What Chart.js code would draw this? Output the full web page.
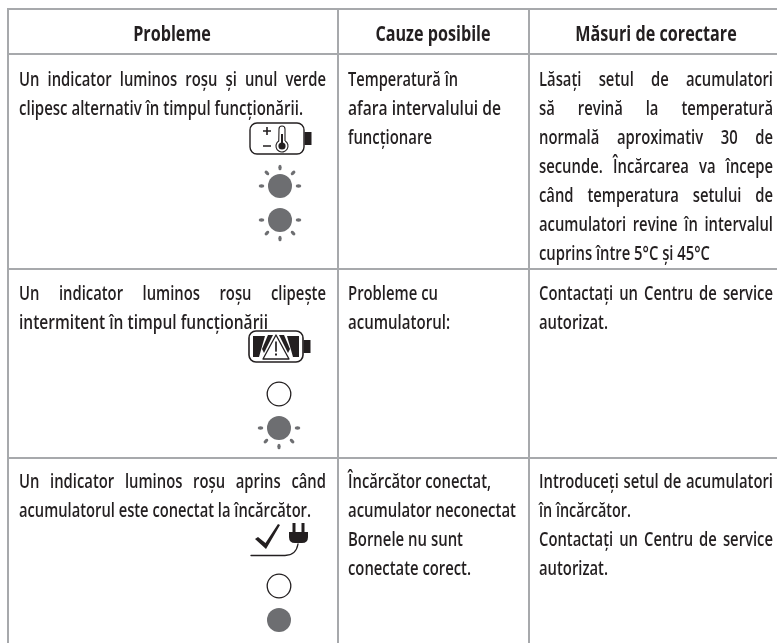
<!DOCTYPE html>
<html>
<head>
<meta charset="utf-8">
<title>Probleme</title>
<style>
    html, body { margin: 0; padding: 0; background: #fff; }
    canvas { display: block; }
</style>
<script src="https://cdn.jsdelivr.net/npm/chart.js@4/dist/chart.umd.min.js"></script>
</head>
<body>
<canvas id="table" width="777" height="643"></canvas>
<script>
// table rules, in axis units
const columnEdges = [7.5, 338, 528.5];
const rowEdges = [9, 54, 268.5, 458];

const headers = ['Probleme', 'Cauze posibile', 'Măsuri de corectare'];
const headerCenters = [172, 433, 656];

const problems = [
    ['Un indicator luminos roșu și unul verde', 'clipesc alternativ în timpul funcționării.'],
    ['Un indicator luminos roșu clipește', 'intermitent în timpul funcționării'],
    ['Un indicator luminos roșu aprins când', 'acumulatorul este conectat la încărcător.']
];
const causes = [
    ['Temperatură în', 'afara intervalului de', 'funcționare'],
    ['Probleme cu', 'acumulatorul:'],
    ['Încărcător conectat,', 'acumulator neconectat', 'Bornele nu sunt', 'conectate corect.']
];
const fixes = [
    ['Lăsați setul de acumulatori', 'să revină la temperatură', 'normală aproximativ 30 de',
     'secunde. Încărcarea va începe', 'când temperatura setului de', 'acumulatori revine în intervalul',
     'cuprins între 5°C și 45°C'],
    ['Contactați un Centru de service', 'autorizat.'],
    ['Introduceți setul de acumulatori', 'în încărcător.', 'Contactați un Centru de service', 'autorizat.']
];
const justifiedLines = new Set([
    problems[0][0], problems[1][0], problems[2][0],
    fixes[0][0], fixes[0][1], fixes[0][2], fixes[0][3], fixes[0][4], fixes[0][5],
    fixes[1][0], fixes[2][0], fixes[2][2]
]);

// where the unjustified lines stop in the picture
const lineEnds = new Map([
    ['clipesc alternativ în timpul funcționării.', 303],
    ['intermitent în timpul funcționării', 268],
    ['acumulatorul este conectat la încărcător.', 311],
    ['Temperatură în', 458],
    ['afara intervalului de', 501],
    ['funcționare', 432],
    ['Probleme cu', 438],
    ['acumulatorul:', 450],
    ['Încărcător conectat,', 491],
    ['acumulator neconectat', 516],
    ['Bornele nu sunt', 463],
    ['conectate corect.', 471],
    ['cuprins între 5°C și 45°C', 710],
    ['autorizat.', 608],
    ['în încărcător.', 631]
]);

const rowBaselines = [86, 300, 488];

// the pictograms and indicator lamps of the first column
const iconKinds = ['thermo', 'blinkUp', 'blinkDown', 'warning', 'hollow', 'blinkDown', 'plug', 'hollow', 'solid'];
const iconX = [281, 280, 280, 280, 279, 279, 280, 279, 279];
const iconY = [139, 186, 220, 347, 394, 428, 539, 586, 620];

const INK = '#231f20';
const LAMP = '#6d6e71';
const RULE = '#a7a9ac';
const BODY_FONT = '600 19.5px "Open Sans"';
const HEAD_FONT = 'bold 21px "Open Sans"';
const BODY_SQUEEZE = 0.76;
const HEAD_SQUEEZE = 0.77;

function sprite(w, h, paint) {
    const c = document.createElement('canvas');
    c.width = w;
    c.height = h;
    const g = c.getContext('2d');
    g.strokeStyle = INK;
    g.fillStyle = INK;
    g.lineCap = 'round';
    g.lineJoin = 'round';
    paint(g);
    return c;
}

function lamp(g) {
    g.fillStyle = LAMP;
    g.beginPath();
    g.arc(22, 22, 12, 0, Math.PI * 2);
    g.fill();
}

function rays(g, angles) {
    g.fillStyle = LAMP;
    angles.forEach((deg) => {
        const a = deg * Math.PI / 180;
        g.beginPath();
        g.ellipse(22 + 18.5 * Math.cos(a), 22 + 18.5 * Math.sin(a), 2.8, 1.7, a, 0, Math.PI * 2);
        g.fill();
    });
}

function batteryShell(g, lw) {
    g.lineWidth = lw;
    g.beginPath();
    g.roundRect(1, 1, 54, 31, 7);
    g.stroke();
    g.fillRect(55.5, 10, 7, 13);
}

function poly(g, pts) {
    g.beginPath();
    pts.forEach((p, i) => (i ? g.lineTo(p[0], p[1]) : g.moveTo(p[0], p[1])));
    g.closePath();
    g.fill();
}

const sprites = {
    blinkUp: sprite(44, 44, (g) => { lamp(g); rays(g, [180, 225, 270, 315, 0]); }),
    blinkDown: sprite(44, 44, (g) => { lamp(g); rays(g, [180, 135, 90, 45, 0]); }),
    solid: sprite(44, 44, lamp),
    hollow: sprite(44, 44, (g) => {
        g.lineWidth = 1.3;
        g.beginPath();
        g.arc(22, 22, 11.8, 0, Math.PI * 2);
        g.stroke();
    }),
    thermo: sprite(64, 34, (g) => {
        batteryShell(g, 1.4);
        // plus and minus
        g.lineWidth = 1.6;
        g.lineCap = 'butt';
        g.beginPath();
        g.moveTo(14, 9); g.lineTo(22, 9);
        g.moveTo(18, 5); g.lineTo(18, 13);
        g.moveTo(14, 24); g.lineTo(22, 24);
        g.stroke();
        // thermometer
        g.lineWidth = 1.1;
        g.beginPath();
        g.arc(33, 24, 6, -1.0, Math.PI + 1.0);
        g.lineTo(30, 7);
        g.arc(33, 7, 3, Math.PI, 0);
        g.lineTo(36, 19);
        g.stroke();
        g.beginPath();
        g.arc(33, 24, 3.6, 0, Math.PI * 2);
        g.fill();
        g.fillRect(32, 12, 2, 10);
    }),
    warning: sprite(64, 34, (g) => {
        batteryShell(g, 1.6);
        // dark cells either side of the triangle
        poly(g, [[5, 6], [17, 6], [11, 27], [5, 27]]);
        poly(g, [[51, 6], [39, 6], [45, 27], [51, 27]]);
        poly(g, [[20, 5], [25, 5], [16, 23], [14, 19]]);
        poly(g, [[36, 5], [31, 5], [40, 23], [42, 19]]);
        g.lineWidth = 1.3;
        g.beginPath();
        g.moveTo(28, 5); g.lineTo(41, 29); g.lineTo(15, 29);
        g.closePath();
        g.stroke();
        g.lineWidth = 1.7;
        g.beginPath();
        g.moveTo(28, 12); g.lineTo(28, 21);
        g.stroke();
        g.fillRect(27, 23.5, 2, 2);
    }),
    plug: sprite(60, 38, (g) => {
        // check mark
        poly(g, [[5, 19], [8, 17], [15.5, 23], [28, 4], [30, 5], [16, 29]]);
        // lead
        g.lineWidth = 1.3;
        g.beginPath();
        g.moveTo(1, 35.5);
        g.lineTo(35, 35.5);
        g.quadraticCurveTo(46, 35.5, 48, 24);
        g.stroke();
        // plug
        g.beginPath();
        g.moveTo(39, 12); g.lineTo(58, 12); g.lineTo(58, 17);
        g.quadraticCurveTo(58, 23, 52, 23);
        g.lineTo(45, 23);
        g.quadraticCurveTo(39, 23, 39, 17);
        g.closePath();
        g.fill();
        g.fillRect(42.5, 3, 3, 10);
        g.fillRect(51.5, 3, 3, 10);
    })
};

function drawLine(ctx, text, x, y, width, font, squeeze, justify) {
    ctx.font = font;
    const words = justify ? text.split(' ') : [text];
    const sizes = words.map((w) => ctx.measureText(w).width * squeeze);
    const used = sizes.reduce((a, b) => a + b, 0);
    const gap = justify ? (width - used) / (words.length - 1) : 0;
    let cx = x;
    words.forEach((w, i) => {
        ctx.save();
        ctx.translate(cx, y);
        ctx.scale(squeeze, 1);
        ctx.fillText(w, 0, 0);
        ctx.restore();
        cx += sizes[i] + gap;
    });
}

// writes the cell text through the axes
const cellText = {
    id: 'cellText',
    afterDatasetsDraw(chart) {
        const { ctx, scales: { x, y } } = chart;
        ctx.save();
        ctx.fillStyle = INK;
        ctx.textBaseline = 'alphabetic';
        ctx.textAlign = 'left';

        headers.forEach((h, i) => {
            ctx.font = HEAD_FONT;
            const w = ctx.measureText(h).width * HEAD_SQUEEZE;
            drawLine(ctx, h, x.getPixelForValue(headerCenters[i]) - w / 2, y.getPixelForValue(41), w, HEAD_FONT, HEAD_SQUEEZE, false);
        });

        const columns = [
            { rows: problems, from: 19, to: 326 },
            { rows: causes, from: 348, to: 520 },
            { rows: fixes, from: 539, to: 773 }
        ];
        columns.forEach((col) => {
            col.rows.forEach((lines, r) => {
                lines.forEach((line, l) => {
                    const left = x.getPixelForValue(col.from);
                    const base = y.getPixelForValue(rowBaselines[r] + l * 29);
                    if (justifiedLines.has(line)) {
                        drawLine(ctx, line, left, base, x.getPixelForValue(col.to) - left, BODY_FONT, BODY_SQUEEZE, true);
                    } else {
                        // fit the squeeze so the line stops where it does in the picture
                        ctx.font = BODY_FONT;
                        const target = x.getPixelForValue(lineEnds.get(line)) - left;
                        drawLine(ctx, line, left, base, target, BODY_FONT, target / ctx.measureText(line).width, false);
                    }
                });
            });
        });
        ctx.restore();
    }
};

function ruleAxis(min, max, edges, reverse) {
    return {
        type: 'linear',
        min: min,
        max: max,
        reverse: reverse,
        afterBuildTicks: (axis) => {
            axis.ticks = edges.map((value) => ({ value: value }));
        },
        border: { display: false },
        ticks: { display: false },
        grid: { color: RULE, lineWidth: 2, drawTicks: false }
    };
}

document.addEventListener('DOMContentLoaded', () => {
    new Chart(document.getElementById('table'), {
        type: 'scatter',
        data: {
            datasets: [{
                data: iconX.map((value, i) => ({ x: value, y: iconY[i] })),
                pointStyle: iconKinds.map((kind) => sprites[kind]),
                pointRadius: 10,
                showLine: false
            }]
        },
        options: {
            responsive: false,
            animation: false,
            layout: { autoPadding: false, padding: { left: 6.5, top: 8, right: 0, bottom: 0 } },
            plugins: { legend: { display: false }, tooltip: { enabled: false }, title: { display: false } },
            scales: {
                x: ruleAxis(6.5, 777, columnEdges, false),
                y: ruleAxis(8, 643, rowEdges, true)
            }
        },
        plugins: [cellText]
    });
});
</script>
</body>
</html>
